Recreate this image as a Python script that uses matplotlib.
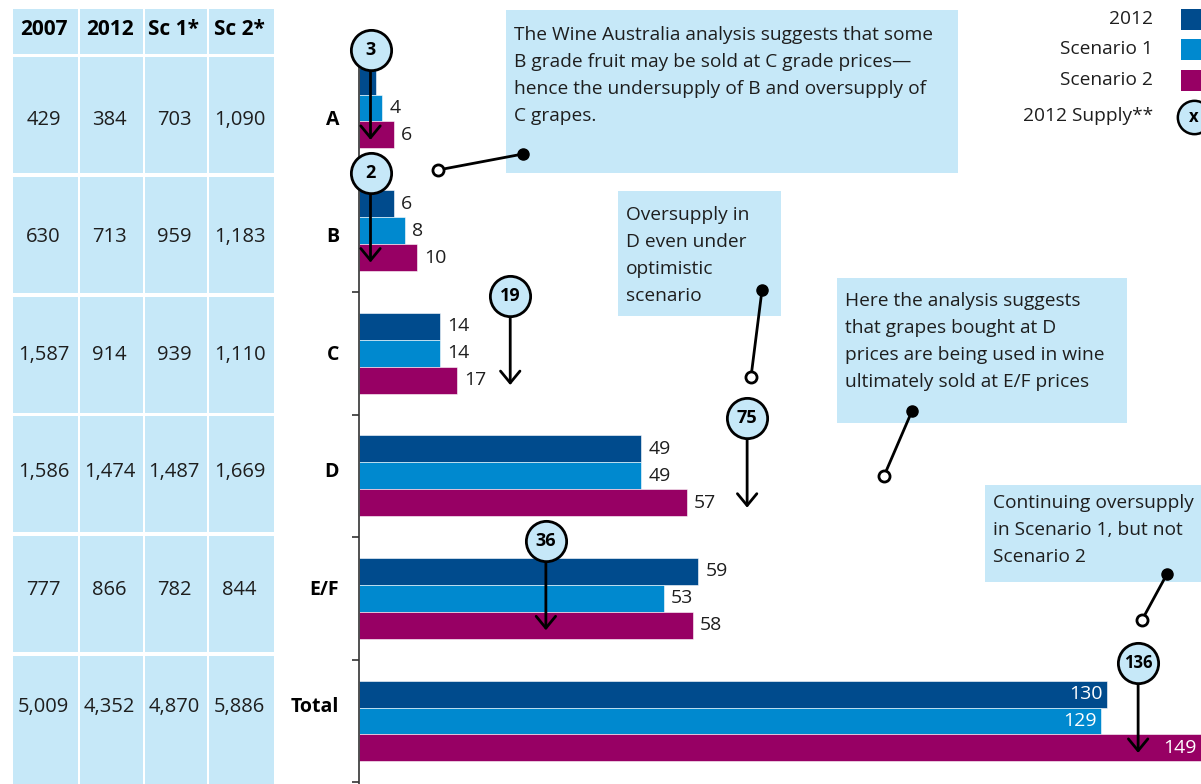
import numpy as np
import matplotlib
matplotlib.use("Agg")
import matplotlib.pyplot as plt
from matplotlib.patches import Rectangle

plt.rcParams['font.family'] = ['Open Sans', 'DejaVu Sans']

# table data
table_headers = ['2007', '2012', 'Sc 1*', 'Sc 2*']
t_2007 = [429, 630, 1587, 1586, 777, 5009]
t_2012 = [384, 713, 914, 1474, 866, 4352]
t_sc1 = [703, 959, 939, 1487, 782, 4870]
t_sc2 = [1090, 1183, 1110, 1669, 844, 5886]

# bar data
categories = ['A', 'B', 'C', 'D', 'E/F', 'Total']
v_2012 = [3, 6, 14, 49, 59, 130]
v_sc1 = [4, 8, 14, 49, 53, 129]
v_sc2 = [6, 10, 17, 57, 58, 149]
supply_2012 = [3, 2, 19, 75, 36, 136]
# where the supply markers sit on the value axis, as drawn in the source
supply_marker_x = [2, 2, 26.3, 67.5, 32.5, 135.5]

series_names = ['2012', 'Scenario 1', 'Scenario 2']
colors = ['#004B8D', '#0089CF', '#970064']
pale = '#C6E8F8'
txt = '#1e1e1e'

W, H = 1201, 784
fig = plt.figure(figsize=(W / 100, H / 100), dpi=100)

# background axes in pixel coordinates
bg = fig.add_axes([0, 0, 1, 1], zorder=0)
bg.set_xlim(0, W)
bg.set_ylim(H, 0)
bg.axis('off')

# ---- table ----
col_l = [13, 80, 145, 209]
col_r = [78, 143, 207, 274]
row_top = [57 + 119.8 * i for i in range(6)]
for c in range(4):
    bg.add_patch(Rectangle((col_l[c], 9), col_r[c] - col_l[c], 45, color=pale, lw=0))
    bg.text((col_l[c] + col_r[c]) / 2 - 2, 29, table_headers[c], ha='center', va='center',
            fontsize=15, fontweight='bold', color='black')
    for r in range(6):
        bottom = row_top[r] + 116 if r < 5 else H
        bg.add_patch(Rectangle((col_l[c], row_top[r]), col_r[c] - col_l[c], bottom - row_top[r],
                               color=pale, lw=0))

cols = [t_2007, t_2012, t_sc1, t_sc2]
for c, vals in enumerate(cols):
    for r, v in enumerate(vals):
        bg.text((col_l[c] + col_r[c]) / 2 - 2, 120 + 117.4 * r, f'{v:,}', ha='center', va='center',
                fontsize=14.5, color=txt)

# category labels
for r, cat in enumerate(categories):
    bg.text(339, 120 + 117.4 * r, cat, ha='right', va='center', fontsize=14,
            fontweight='bold', color='black')

# ---- legend ----
leg_y = [19, 49, 80]
for name, col, y in zip(series_names, colors, leg_y):
    bg.text(1153, y, name, ha='right', va='center', fontsize=13.8, color=txt)
    bg.add_patch(Rectangle((1181, y - 10), 22, 21, color=col, lw=0))
bg.text(1153, 116, '2012 Supply**', ha='right', va='center', fontsize=13.8, color=txt)
bg.plot([1194], [117], 'o', ms=24, mfc=pale, mec='black', mew=1.8, clip_on=False)
bg.text(1194, 117, 'x', ha='center', va='center', fontsize=12, fontweight='bold')

# ---- callouts ----
callouts = [
    ((506, 10, 452, 163), (514, 35),
     ['The Wine Australia analysis suggests that some',
      'B grade fruit may be sold at C grade prices\u2014',
      'hence the undersupply of B and oversupply of',
      'C grapes.'], (523, 154), (438, 170)),
    ((618, 191, 163, 125), (626, 215),
     ['Oversupply in', 'D even under', 'optimistic', 'scenario'], (762, 290), (751, 377)),
    ((837, 278, 290, 145), (845, 301),
     ['Here the analysis suggests', 'that grapes bought at D',
      'prices are being used in wine', 'ultimately sold at E/F prices'], (912, 411), (884, 476)),
    ((985, 485, 220, 97), (993, 503),
     ['Continuing oversupply', 'in Scenario 1, but not', 'Scenario 2'], (1167, 574), (1142, 620)),
]
for (bx, by, bw, bh), (tx, ty), lines, dot, ring in callouts:
    bg.add_patch(Rectangle((bx, by), bw, bh, color=pale, lw=0))
    for k, line in enumerate(lines):
        bg.text(tx, ty + 26.9 * k, line, ha='left', va='center', fontsize=13.8, color=txt)
    bg.plot([dot[0], ring[0]], [dot[1], ring[1]], color='black', lw=2)
    bg.plot([dot[0]], [dot[1]], 'o', ms=8, color='black')
    bg.plot([ring[0]], [ring[1]], 'o', ms=8, mfc='white', mec='black', mew=2)

# ---- bar chart ----
left_px, top_px = 359, 65
px_per_unit = 5.75
center0, step = 108, 122.6
ax = fig.add_axes([left_px / W, 0, (W - left_px) / W, (H - top_px) / H], zorder=1)
ax.set_facecolor('none')
ax.set_xlim(0, (W - left_px) / px_per_unit)
ax.set_ylim((H - center0) / step, -(center0 - top_px) / step)

y = np.arange(len(categories))
bh = 0.22
xmax = ax.get_xlim()[1]
for s, (vals, col) in enumerate(zip([v_2012, v_sc1, v_sc2], colors)):
    ypos = y + (s - 1) * bh
    ax.barh(ypos, vals, height=bh, color=col, edgecolor='white', linewidth=0.4)
    for i, (yy, v) in enumerate(zip(ypos, vals)):
        if categories[i] == 'Total':
            ax.text(min(v, xmax) - 0.7, yy, str(v), ha='right', va='center',
                    fontsize=14, color='white')
        elif not (i == 0 and s == 0):
            ax.text(v + 1.3, yy, str(v), ha='left', va='center', fontsize=14, color=txt)

# supply markers
for i, (sup, mx) in enumerate(zip(supply_2012, supply_marker_x)):
    yc = y[i] - 0.47
    ax.annotate('', xy=(mx, y[i] + 0.26), xytext=(mx, yc),
                arrowprops=dict(arrowstyle='->,head_length=0.85,head_width=0.7',
                                lw=2, color='black', shrinkA=0, shrinkB=0),
                annotation_clip=False, zorder=4)
    ax.plot([mx], [yc], 'o', ms=29, mfc=pale, mec='black', mew=2, zorder=5, clip_on=False)
    ax.text(mx, yc, str(sup), ha='center', va='center', fontsize=13 if sup < 100 else 12,
            fontweight='bold', zorder=6)

for sp in ['top', 'right', 'bottom']:
    ax.spines[sp].set_visible(False)
ax.spines['left'].set_color('#333333')
ax.spines['left'].set_linewidth(1.2)
ax.set_xticks([])
ax.set_yticks(y[1:] + 0.5)
ax.set_yticklabels([])
ax.tick_params(axis='y', direction='out', length=5, width=1.2, color='#333333')

fig.savefig('out.png', dpi=100)
